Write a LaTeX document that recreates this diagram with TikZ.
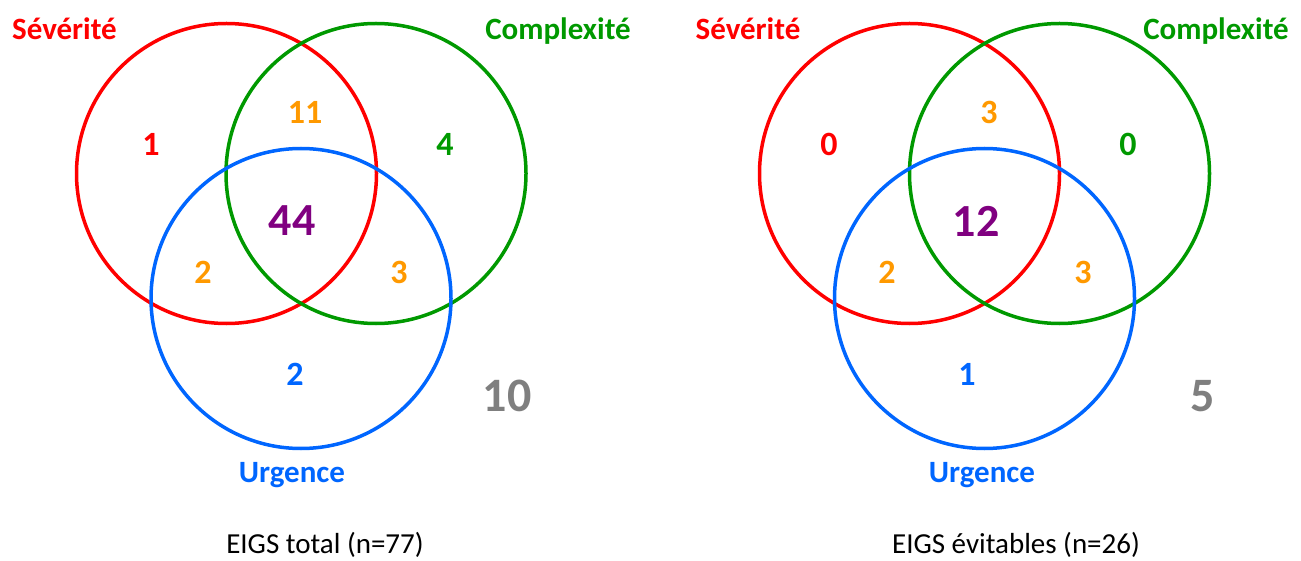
\documentclass[tikz,border=0pt]{standalone}
\usepackage{fontspec}
\setmainfont{Carlito}
\definecolor{vred}{RGB}{255,0,0}
\definecolor{vgreen}{RGB}{0,153,0}
\definecolor{vblue}{RGB}{0,102,255}
\definecolor{vorange}{RGB}{255,153,0}
\definecolor{vpurple}{RGB}{128,0,128}
\definecolor{vgray}{RGB}{127,127,127}
\tikzset{
  ring/.style={line width=3.5pt},
  setlabel/.style={font=\fontsize{31}{31}\selectfont\bfseries, anchor=base, inner sep=0pt},
  count/.style={font=\fontsize{34}{34}\selectfont\bfseries, inner sep=0pt},
  core/.style={font=\fontsize{46}{46}\selectfont\bfseries, inner sep=0pt, text=vpurple},
  outside/.style={font=\fontsize{48}{48}\selectfont\bfseries, inner sep=0pt, text=vgray},
  caption/.style={font=\fontsize{29}{29}\selectfont, anchor=base, inner sep=0pt},
}
\begin{document}
\begin{tikzpicture}[x=1pt,y=-1pt]
\useasboundingbox (0,0) rectangle (1301,561);
% ---------- left diagram ----------
\draw[ring, vred]   (226.5,173.5) circle (150);
\draw[ring, vgreen] (376,173.5) circle (150);
\draw[ring, vblue]  (301,298.5) circle (150);
\node[setlabel, text=vred]   (sevA) at (64.5,40) {Sévérité};
\node[setlabel, text=vgreen] (comA) at (558,40) {Complexité};
\node[setlabel, text=vblue]  (urgA) at (292,482) {Urgence};
\node[count, text=vred]    (a1)  at (151,144) {1};
\node[count, text=vorange] (a11) at (305,112.5) {11};
\node[count, text=vgreen]  (a4)  at (445,144) {4};
\node[core]                (a44) at (292,221) {44};
\node[count, text=vorange] (a2o) at (203,272.5) {2};
\node[count, text=vorange] (a3o) at (399,272.5) {3};
\node[count, text=vblue]   (a2b) at (295,374) {2};
\node[outside]             (a10) at (507,396) {10};
\node[caption]             (capA) at (325,553.5) {EIGS total (n=77)};
% ---------- right diagram ----------
\draw[ring, vred]   (909.5,173.5) circle (150);
\draw[ring, vgreen] (1059.5,173.5) circle (150);
\draw[ring, vblue]  (984.5,298.5) circle (150);
\node[setlabel, text=vred]   (sevB) at (748,40) {Sévérité};
\node[setlabel, text=vgreen] (comB) at (1216,40) {Complexité};
\node[setlabel, text=vblue]  (urgB) at (982,482) {Urgence};
\node[count, text=vred]    (b0r) at (829,144) {0};
\node[count, text=vorange] (b3t) at (989,112.5) {3};
\node[count, text=vgreen]  (b0g) at (1128,144) {0};
\node[core]                (b12) at (976,221) {12};
\node[count, text=vorange] (b2o) at (887,272.5) {2};
\node[count, text=vorange] (b3o) at (1083,272.5) {3};
\node[count, text=vblue]   (b1b) at (967,374) {1};
\node[outside]             (b5)  at (1203,396) {5};
\node[caption]             (capB) at (1016,553.5) {EIGS évitables (n=26)};
\end{tikzpicture}
\end{document}
